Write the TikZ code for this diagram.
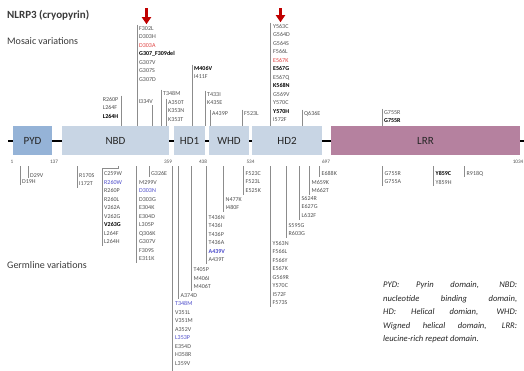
\documentclass[tikz,border=0pt]{standalone}
\usepackage{fontspec}
\setmainfont{Carlito}
\usepackage{tikz}
\usetikzlibrary{arrows.meta, positioning, calc}

\definecolor{pydblue}{HTML}{95B3D7}
\definecolor{coregrey}{HTML}{C8D5E4}
\definecolor{lrrmauve}{HTML}{B5819F}
\definecolor{domtext}{HTML}{262626}
\definecolor{muttext}{HTML}{505050}
\definecolor{headtext}{HTML}{3A3A3A}
\definecolor{tickgrey}{HTML}{8C8C8C}
\definecolor{mutred}{HTML}{E0403F}
\definecolor{mutblue}{HTML}{4B4BCB}
\definecolor{pinred}{HTML}{C00000}

\newcommand{\boldmut}[1]{\textbf{\color{black}#1}}
\newcommand{\redmut}[1]{\textcolor{mutred}{#1}}
\newcommand{\bluemut}[1]{\textcolor{mutblue}{#1}}

\begin{document}
\begin{tikzpicture}[x=1pt, y=-1pt,
      dombox/.style={minimum height=29pt, inner sep=0pt, font=\fontsize{11}{13}\selectfont, text=domtext},
      muts/.style={anchor=north west, align=left, inner sep=0pt, font=\fontsize{6}{8.5}\selectfont, text=muttext},
      resnum/.style={inner sep=0pt, font=\fontsize{5.2}{6}\selectfont, text=muttext},
      heading/.style={anchor=west, inner sep=0pt, text=headtext},
      mutline/.style={draw=tickgrey, line width=0.7pt},
      backbone/.style={line width=2.2pt, black},
      redpin/.style={-{Triangle[width=9pt, length=7pt]}, line width=3pt, pinred, shorten >=2pt}
    ]
      \fill[white] (0,0) rectangle (524,370);
      \useasboundingbox (0,0) rectangle (524,370);

      % Headings
      \node[heading, font=\fontsize{11}{13}\selectfont\bfseries] (title) at (7,15) {NLRP3 (cryopyrin)};
      \node[heading, font=\fontsize{10}{12}\selectfont] (mosaic) at (7,41) {Mosaic variations};
      \node[heading, font=\fontsize{10}{12}\selectfont] (germline) at (7,265) {Germline variations};

      % Protein backbone and domains
      \coordinate (nterm) at (8,141);
      \coordinate (cterm) at (524,141);
      \draw[backbone] (nterm) -- (cterm);
      \node[dombox, fill=pydblue, minimum width=39pt] (pyd) at (32.5,140.5) {PYD};
      \node[dombox, fill=coregrey, minimum width=107pt] (nbd) at (115.5,140.5) {NBD};
      \node[dombox, fill=coregrey, minimum width=31pt] (hd1) at (189.5,140.5) {HD1};
      \node[dombox, fill=coregrey, minimum width=40pt] (whd) at (229,140.5) {WHD};
      \node[dombox, fill=coregrey, minimum width=70pt] (hd2) at (287,140.5) {HD2};
      \node[dombox, fill=lrrmauve, minimum width=189pt] (lrr) at (425.5,140.5) {LRR};

      % Residue numbers
      \node[resnum] (n1) at (12,162) {1};
      \node[resnum] (n137) at (54,162) {137};
      \node[resnum] (n359) at (168,162) {359};
      \node[resnum] (n438) at (203,162) {438};
      \node[resnum] (n534) at (250.5,162) {534};
      \node[resnum] (n697) at (326,162) {697};
      \node[resnum, anchor=east] (n1034) at (523.5,162) {1034};
      \coordinate (glrow) at (0,166);

      % Mosaic variations
      \node[muts] (m1) at (139,26.2) {F302L\\D303H\\\redmut{D303A}\\\boldmut{G307\_F309del}\\G307V\\G307S\\G307D};
      \node[muts, anchor=north east] (m2) at (118.5,97.2) {R260P\\L264F\\\boldmut{L264H}};
      \node[muts] (m3) at (138.5,99.2) {I334V};
      \node[muts] (m4) at (163,91.2) {T348M};
      \node[muts] (m5) at (168,100.2) {A350T\\K353N\\K353T};
      \node[muts] (m6) at (194,66.2) {\boldmut{M406V}\\I411F};
      \node[muts] (m7) at (207,92.2) {T433I\\K435E};
      \node[muts] (m8) at (212,111.2) {A439P};
      \node[muts] (m9) at (244,111.2) {F523L};
      \node[muts] (m10) at (273,24.2) {Y563C\\G564D\\G564S\\F566L\\\redmut{E567K}\\\boldmut{E567G}\\E567Q\\\boldmut{K568N}\\G569V\\Y570C\\\boldmut{Y570H}\\I572F};
      \node[muts] (m11) at (304,111.2) {Q636E};
      \node[muts] (m12) at (384,110.2) {G755R\\\boldmut{G755R}};

      % Mosaic lines
      \draw[mutline] ([shift={(-2pt,1.5pt)}]m1.north west) -- ([xshift=-2pt]m1.north west |- nbd.north);
      \draw[mutline] ([shift={(2.5pt,1.5pt)}]m2.north east) -- ([xshift=2.5pt]m2.north east |- nbd.north);
      \draw[mutline] ([shift={(-1pt,-1.5pt)}]m3.south east) -- ([xshift=-1pt]m3.south east |- nbd.north);
      \draw[mutline] ([shift={(-2pt,1.5pt)}]m4.north west) -- ([xshift=-2pt]m4.north west |- nbd.north);
      \draw[mutline] ([shift={(-2pt,1.5pt)}]m5.north west) -- ([xshift=-2pt]m5.north west |- nbd.north);
      \draw[mutline] ([shift={(-2pt,1.5pt)}]m6.north west) -- ([xshift=-2pt]m6.north west |- hd1.north);
      \draw[mutline] ([shift={(-2pt,1.5pt)}]m7.north west) -- ([xshift=-2pt]m7.north west |- hd1.north);
      \draw[mutline] ([shift={(-2pt,1.5pt)}]m8.north west) -- ([xshift=-2pt]m8.north west |- whd.north);
      \draw[mutline] ([shift={(-2pt,1.5pt)}]m9.north west) -- ([xshift=-2pt]m9.north west |- whd.north);
      \draw[mutline] ([shift={(-2.5pt,1.5pt)}]m10.north west) -- ([xshift=-2.5pt]m10.north west |- hd2.north);
      \draw[mutline] ([shift={(-2pt,1.5pt)}]m11.north west) -- ([xshift=-2pt]m11.north west |- hd2.north);
      \draw[mutline] ([shift={(-2pt,1.5pt)}]m12.north west) -- ([xshift=-2pt]m12.north west |- lrr.north);

      % Red markers
      \coordinate (pinA) at (146.5,8);
      \coordinate (pinB) at (280.5,8);
      \draw[redpin] (pinA) -- (pinA |- m1.north);
      \draw[redpin] (pinB) -- (pinB |- m10.north);

      % Germline variations
      \node[muts] (g1) at (30,173.2) {D29V};
      \node[muts] (g2) at (22,179.2) {D19H};
      \node[muts] (g3) at (79,173.2) {R170S\\I172T};
      \node[muts] (g4) at (104,171.5) {C259W\\\bluemut{R260W}\\R260P\\R260L\\V262A\\V262G\\\boldmut{V263G}\\L264F\\L264H};
      \node[muts] (g5) at (139,180.2) {M299V\\\bluemut{D303N}\\D303G\\E304K\\E304D\\L305P\\Q306K\\G307V\\F309S\\E311K};
      \node[muts] (g6) at (151,171.5) {G326E};
      \node[muts] (g7) at (175,301.2) {\bluemut{T348M}\\V351L\\V351M\\A352V\\\bluemut{L353P}\\E354D\\H358R\\L359V};
      \node[muts] (g8) at (180.5,293.2) {A374D};
      \node[muts] (g9) at (193.5,267.5) {T405P\\M406I\\M406T};
      \node[muts] (g10) at (208.5,215.2) {T436N\\T436I\\T436P\\T436A\\\textbf{\bluemut{A439V}}\\A439T};
      \node[muts] (g11) at (225.5,197.2) {N477K\\I480F};
      \node[muts] (g12) at (245.5,171.2) {F523C\\F523L\\E525K};
      \node[muts] (g13) at (272.5,241.2) {Y563N\\F566L\\F566Y\\E567K\\G569R\\Y570C\\I572F\\F573S};
      \node[muts] (g14) at (288.5,223.2) {S595G\\R603G};
      \node[muts] (g15) at (301.5,196.2) {S624R\\E627G\\L632F};
      \node[muts] (g16) at (311.5,180.2) {M659K\\M662T};
      \node[muts] (g17) at (321.5,171.2) {E688K};
      \node[muts] (g18) at (384.5,171.2) {G755R\\G755A};
      \node[muts] (g19) at (435.5,171.2) {\boldmut{Y859C}\\Y859H};
      \node[muts] (g20) at (466.5,171.2) {R918Q};

      % Germline lines
      \draw[mutline] ([xshift=-2pt]g1.north west |- glrow) -- ([shift={(-2pt,-1pt)}]g1.south west);
      \draw[mutline] ([xshift=-2pt]g2.north west |- glrow) -- ([shift={(-2pt,-2pt)}]g2.south west);
      \draw[mutline] ([xshift=-2pt]g3.north west |- glrow) -- ([shift={(-2pt,-2pt)}]g3.south west);
      \draw[mutline] ([shift={(-2pt,-2pt)}]g4.south west) |- ([shift={(14pt,3pt)}]g4.north west) -- ([xshift=14pt]g4.north west |- glrow);
      \draw[mutline] ([xshift=-2.5pt]g5.north west |- glrow) -- ([shift={(-2.5pt,-2pt)}]g5.south west);
      \draw[mutline] ([xshift=-2pt]g6.north west |- glrow) -- ([shift={(-2pt,-1pt)}]g6.south west);
      \draw[mutline] ([xshift=-2.5pt]g7.north west |- glrow) -- ([shift={(-2.5pt,-12pt)}]g7.south west);
      \draw[mutline] ([xshift=-2.5pt]g8.north west |- glrow) -- ([shift={(-2.5pt,-1pt)}]g8.south west);
      \draw[mutline] ([xshift=-2.5pt]g9.north west |- glrow) -- ([shift={(-2.5pt,-2pt)}]g9.south west);
      \draw[mutline] ([xshift=-2.5pt]g10.north west |- glrow) -- ([shift={(-2.5pt,-2pt)}]g10.south west);
      \draw[mutline] ([xshift=-2.5pt]g11.north west |- glrow) -- ([shift={(-2.5pt,-2pt)}]g11.south west);
      \draw[mutline] ([xshift=-2.5pt]g12.north west |- glrow) -- ([shift={(-2.5pt,-2pt)}]g12.south west);
      \draw[mutline] ([xshift=-2.5pt]g13.north west |- glrow) -- ([shift={(-2.5pt,-2pt)}]g13.south west);
      \draw[mutline] ([xshift=-2.5pt]g14.north west |- glrow) -- ([shift={(-2.5pt,-2pt)}]g14.south west);
      \draw[mutline] ([xshift=-2.5pt]g15.north west |- glrow) -- ([shift={(-2.5pt,-2pt)}]g15.south west);
      \draw[mutline] ([xshift=-2.5pt]g16.north west |- glrow) -- ([shift={(-2.5pt,-2pt)}]g16.south west);
      \draw[mutline] ([xshift=-2.5pt]g17.north west |- glrow) -- ([shift={(-2.5pt,-1pt)}]g17.south west);
      \draw[mutline] ([xshift=-2.5pt]g18.north west |- glrow) -- ([shift={(-2.5pt,-2pt)}]g18.south west);
      \draw[mutline] ([xshift=-2.5pt]g19.north west |- glrow) -- ([shift={(-2.5pt,-2pt)}]g19.south west);
      \draw[mutline] ([xshift=-2.5pt]g20.north west |- glrow) -- ([shift={(-2.5pt,-1pt)}]g20.south west);

      % Legend
      \node[anchor=north west, inner sep=0pt, text width=134pt, align=justify, text=domtext,
            font=\fontsize{8.6}{13.5}\selectfont\itshape] (legend) at (383,281.5)
        {PYD: Pyrin domain, NBD:\linebreak nucleotide binding domain,\linebreak HD: Helical domian, WHD:\linebreak Wigned helical domain, LRR:\linebreak leucine-rich repeat domain.};
    \end{tikzpicture}
\end{document}
